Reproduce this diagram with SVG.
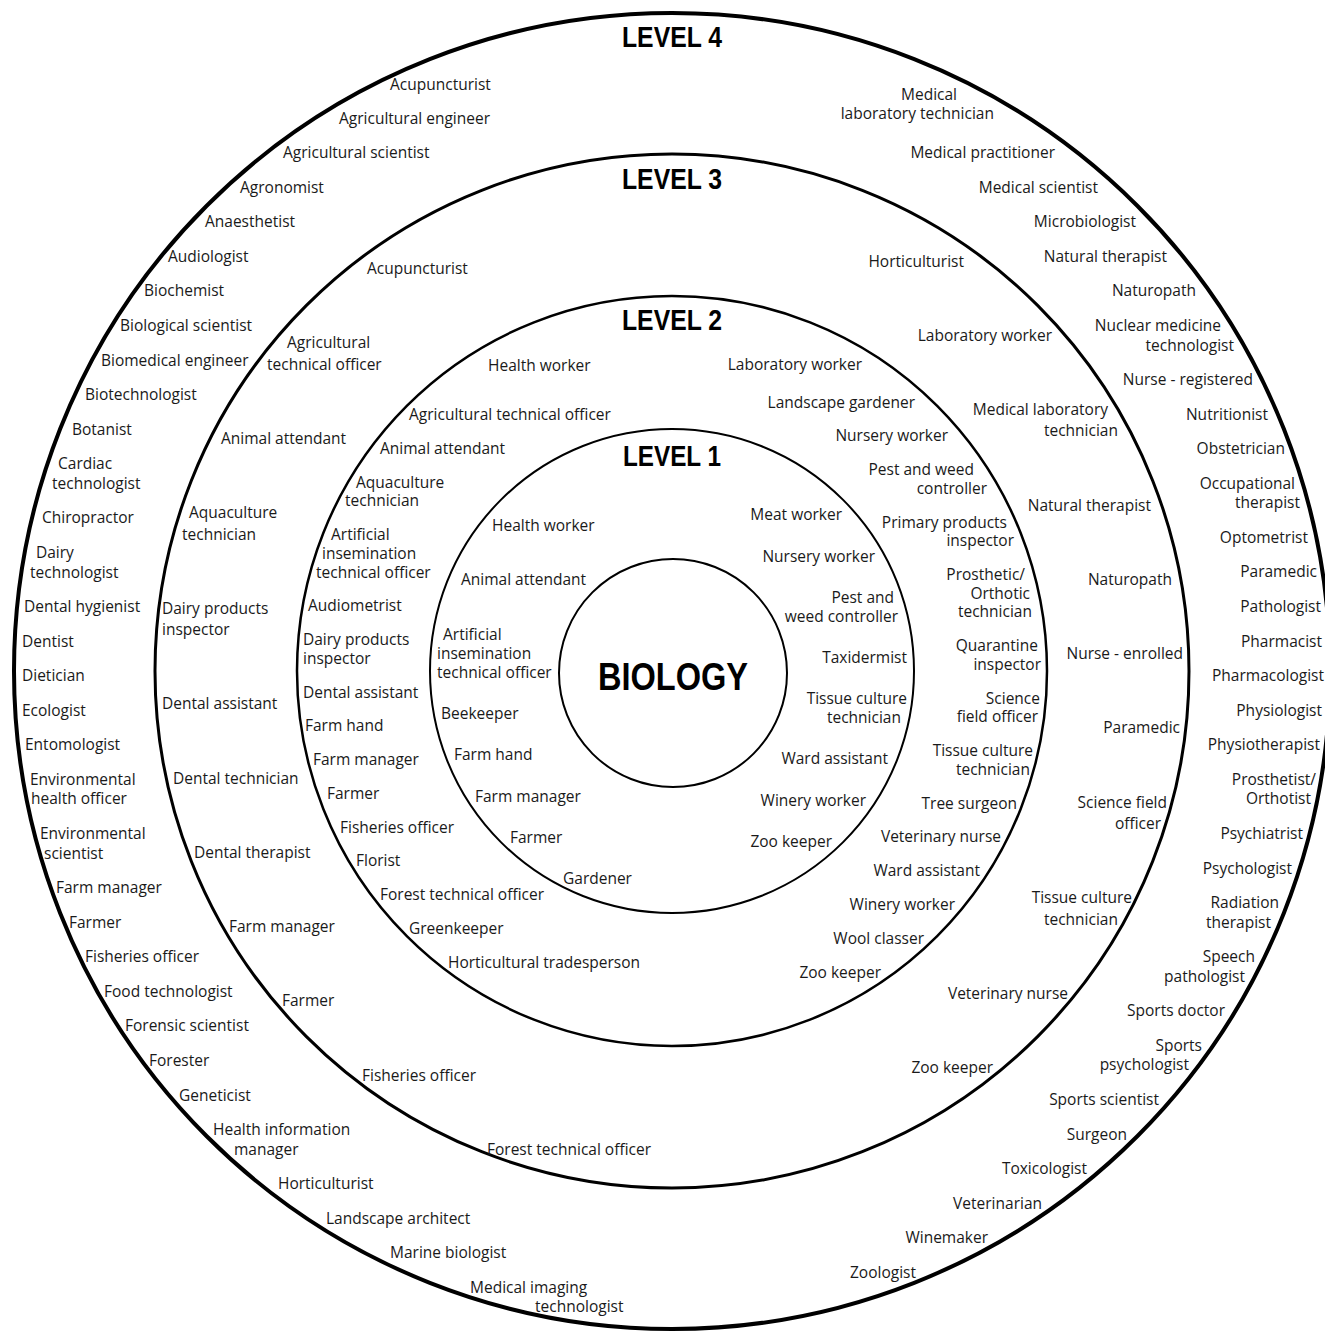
<svg xmlns="http://www.w3.org/2000/svg" width="1325" height="1332" viewBox="0 0 1325 1332">
<style>
.ring{fill:none;stroke:#000}
.t{font-family:"Open Sans","DejaVu Sans",sans-serif;font-size:15.5px;fill:#1a1a1a}
.l{text-anchor:start}
.r{text-anchor:end}
.h{font-family:"Liberation Sans",Arial,sans-serif;font-weight:bold;font-size:29px;fill:#000;text-anchor:middle}
.bio{font-family:"Liberation Sans",Arial,sans-serif;font-weight:bold;font-size:38px;fill:#000;text-anchor:middle}
</style>
<rect width="1325" height="1332" fill="#fff"/>
<g id="rings">
<circle class="ring" cx="672" cy="671" r="658" stroke-width="4"/>
<circle class="ring" cx="672" cy="671" r="517" stroke-width="3"/>
<circle class="ring" cx="672" cy="671" r="375" stroke-width="2.5"/>
<circle class="ring" cx="672" cy="671" r="242" stroke-width="2"/>
<circle class="ring" cx="673" cy="673" r="114" stroke-width="2"/>
</g>
<g id="headings">
<text class="h" x="672" y="47" textLength="100" lengthAdjust="spacingAndGlyphs">LEVEL 4</text>
<text class="h" x="672" y="189" textLength="100" lengthAdjust="spacingAndGlyphs">LEVEL 3</text>
<text class="h" x="672" y="330" textLength="100" lengthAdjust="spacingAndGlyphs">LEVEL 2</text>
<text class="h" x="672" y="466" textLength="98" lengthAdjust="spacingAndGlyphs">LEVEL 1</text>
<text class="bio" x="673" y="690" textLength="150" lengthAdjust="spacingAndGlyphs">BIOLOGY</text>
</g>
<g id="level4" class="t">
<text class="l" x="390" y="90">Acupuncturist</text>
<text class="l" x="339" y="124">Agricultural engineer</text>
<text class="l" x="283" y="158">Agricultural scientist</text>
<text class="l" x="240" y="193">Agronomist</text>
<text class="l" x="205" y="227">Anaesthetist</text>
<text class="l" x="168" y="262">Audiologist</text>
<text class="l" x="144" y="296">Biochemist</text>
<text class="l" x="120" y="331">Biological scientist</text>
<text class="l" x="101" y="366">Biomedical engineer</text>
<text class="l" x="85" y="400">Biotechnologist</text>
<text class="l" x="72" y="435">Botanist</text>
<text class="l"><tspan x="58" y="469">Cardiac</tspan><tspan x="52" y="489">technologist</tspan></text>
<text class="l" x="42" y="523">Chiropractor</text>
<text class="l"><tspan x="36" y="558">Dairy</tspan><tspan x="30" y="578">technologist</tspan></text>
<text class="l" x="24" y="612">Dental hygienist</text>
<text class="l" x="22" y="647">Dentist</text>
<text class="l" x="22" y="681">Dietician</text>
<text class="l" x="22" y="716">Ecologist</text>
<text class="l" x="25" y="750">Entomologist</text>
<text class="l"><tspan x="30" y="785">Environmental</tspan><tspan x="31" y="804">health officer</tspan></text>
<text class="l"><tspan x="40" y="839">Environmental</tspan><tspan x="44" y="859">scientist</tspan></text>
<text class="l" x="56" y="893">Farm manager</text>
<text class="l" x="69" y="928">Farmer</text>
<text class="l" x="85" y="962">Fisheries officer</text>
<text class="l" x="104" y="997">Food technologist</text>
<text class="l" x="125" y="1031">Forensic scientist</text>
<text class="l" x="149" y="1066">Forester</text>
<text class="l" x="179" y="1101">Geneticist</text>
<text class="l"><tspan x="213" y="1135">Health information</tspan><tspan x="234" y="1155">manager</tspan></text>
<text class="l" x="278" y="1189">Horticulturist</text>
<text class="l" x="326" y="1224">Landscape architect</text>
<text class="l" x="390" y="1258">Marine biologist</text>
<text class="l"><tspan x="470" y="1293">Medical imaging</tspan><tspan x="535" y="1312">technologist</tspan></text>
<text class="r"><tspan x="957" y="100">Medical</tspan><tspan x="994" y="119">laboratory technician</tspan></text>
<text class="r" x="1055" y="158">Medical practitioner</text>
<text class="r" x="1098" y="193">Medical scientist</text>
<text class="r" x="1136" y="227">Microbiologist</text>
<text class="r" x="1167" y="262">Natural therapist</text>
<text class="r" x="1196" y="296">Naturopath</text>
<text class="r"><tspan x="1221" y="331">Nuclear medicine</tspan><tspan x="1234" y="351">technologist</tspan></text>
<text class="r" x="1253" y="385">Nurse - registered</text>
<text class="r" x="1268" y="420">Nutritionist</text>
<text class="r" x="1285" y="454">Obstetrician</text>
<text class="r"><tspan x="1295" y="489">Occupational</tspan><tspan x="1300" y="508">therapist</tspan></text>
<text class="r" x="1308" y="543">Optometrist</text>
<text class="r" x="1317" y="577">Paramedic</text>
<text class="r" x="1321" y="612">Pathologist</text>
<text class="r" x="1322" y="647">Pharmacist</text>
<text class="r" x="1324" y="681">Pharmacologist</text>
<text class="r" x="1322" y="716">Physiologist</text>
<text class="r" x="1320" y="750">Physiotherapist</text>
<text class="r"><tspan x="1316" y="785">Prosthetist/</tspan><tspan x="1311" y="804">Orthotist</tspan></text>
<text class="r" x="1303" y="839">Psychiatrist</text>
<text class="r" x="1292" y="874">Psychologist</text>
<text class="r"><tspan x="1279" y="908">Radiation</tspan><tspan x="1271" y="928">therapist</tspan></text>
<text class="r"><tspan x="1255" y="962">Speech</tspan><tspan x="1245" y="982">pathologist</tspan></text>
<text class="r" x="1225" y="1016">Sports doctor</text>
<text class="r"><tspan x="1202" y="1051">Sports</tspan><tspan x="1189" y="1070">psychologist</tspan></text>
<text class="r" x="1159" y="1105">Sports scientist</text>
<text class="r" x="1127" y="1140">Surgeon</text>
<text class="r" x="1087" y="1174">Toxicologist</text>
<text class="r" x="1042" y="1209">Veterinarian</text>
<text class="r" x="988" y="1243">Winemaker</text>
<text class="r" x="916" y="1278">Zoologist</text>
</g>
<g id="level3" class="t">
<text class="l" x="367" y="274">Acupuncturist</text>
<text class="l"><tspan x="287" y="348">Agricultural</tspan><tspan x="267" y="370">technical officer</tspan></text>
<text class="l" x="221" y="444">Animal attendant</text>
<text class="l"><tspan x="189" y="518">Aquaculture</tspan><tspan x="182" y="540">technician</tspan></text>
<text class="l"><tspan x="162" y="614">Dairy products</tspan><tspan x="162" y="635">inspector</tspan></text>
<text class="l" x="162" y="709">Dental assistant</text>
<text class="l" x="173" y="784">Dental technician</text>
<text class="l" x="194" y="858">Dental therapist</text>
<text class="l" x="229" y="932">Farm manager</text>
<text class="l" x="282" y="1006">Farmer</text>
<text class="l" x="362" y="1081">Fisheries officer</text>
<text class="l" x="487" y="1155">Forest technical officer</text>
<text class="r" x="964" y="267">Horticulturist</text>
<text class="r" x="1052" y="341">Laboratory worker</text>
<text class="r"><tspan x="1108" y="415">Medical laboratory</tspan><tspan x="1118" y="436">technician</tspan></text>
<text class="r" x="1151" y="511">Natural therapist</text>
<text class="r" x="1172" y="585">Naturopath</text>
<text class="r" x="1183" y="659">Nurse - enrolled</text>
<text class="r" x="1180" y="733">Paramedic</text>
<text class="r"><tspan x="1167" y="808">Science field</tspan><tspan x="1161" y="829">officer</tspan></text>
<text class="r"><tspan x="1132" y="903">Tissue culture</tspan><tspan x="1118" y="925">technician</tspan></text>
<text class="r" x="1068" y="999">Veterinary nurse</text>
<text class="r" x="993" y="1073">Zoo keeper</text>
</g>
<g id="level2" class="t">
<text class="l" x="488" y="371">Health worker</text>
<text class="l" x="409" y="420">Agricultural technical officer</text>
<text class="l" x="380" y="454">Animal attendant</text>
<text class="l"><tspan x="356" y="488">Aquaculture</tspan><tspan x="345" y="506">technician</tspan></text>
<text class="l"><tspan x="331" y="540">Artificial</tspan><tspan x="322" y="559">insemination</tspan><tspan x="316" y="578">technical officer</tspan></text>
<text class="l" x="308" y="611">Audiometrist</text>
<text class="l"><tspan x="303" y="645">Dairy products</tspan><tspan x="303" y="664">inspector</tspan></text>
<text class="l" x="303" y="698">Dental assistant</text>
<text class="l" x="305" y="731">Farm hand</text>
<text class="l" x="313" y="765">Farm manager</text>
<text class="l" x="327" y="799">Farmer</text>
<text class="l" x="340" y="833">Fisheries officer</text>
<text class="l" x="356" y="866">Florist</text>
<text class="l" x="380" y="900">Forest technical officer</text>
<text class="l" x="409" y="934">Greenkeeper</text>
<text class="l" x="448" y="968">Horticultural tradesperson</text>
<text class="r" x="862" y="370">Laboratory worker</text>
<text class="r" x="915" y="408">Landscape gardener</text>
<text class="r" x="948" y="441">Nursery worker</text>
<text class="r"><tspan x="974" y="475">Pest and weed</tspan><tspan x="987" y="494">controller</tspan></text>
<text class="r"><tspan x="1007" y="528">Primary products</tspan><tspan x="1014" y="546">inspector</tspan></text>
<text class="r"><tspan x="1025" y="580">Prosthetic/</tspan><tspan x="1030" y="599">Orthotic</tspan><tspan x="1032" y="617">technician</tspan></text>
<text class="r"><tspan x="1038" y="651">Quarantine</tspan><tspan x="1041" y="670">inspector</tspan></text>
<text class="r"><tspan x="1040" y="704">Science</tspan><tspan x="1038" y="722">field officer</tspan></text>
<text class="r"><tspan x="1033" y="756">Tissue culture</tspan><tspan x="1030" y="775">technician</tspan></text>
<text class="r" x="1017" y="809">Tree surgeon</text>
<text class="r" x="1001" y="842">Veterinary nurse</text>
<text class="r" x="980" y="876">Ward assistant</text>
<text class="r" x="955" y="910">Winery worker</text>
<text class="r" x="924" y="944">Wool classer</text>
<text class="r" x="881" y="978">Zoo keeper</text>
</g>
<g id="level1" class="t">
<text class="l" x="492" y="531">Health worker</text>
<text class="l" x="461" y="585">Animal attendant</text>
<text class="l"><tspan x="443" y="640">Artificial</tspan><tspan x="437" y="659">insemination</tspan><tspan x="437" y="678">technical officer</tspan></text>
<text class="l" x="441" y="719">Beekeeper</text>
<text class="l" x="454" y="760">Farm hand</text>
<text class="l" x="475" y="802">Farm manager</text>
<text class="l" x="510" y="843">Farmer</text>
<text class="l" x="563" y="884">Gardener</text>
<text class="r" x="842" y="520">Meat worker</text>
<text class="r" x="875" y="562">Nursery worker</text>
<text class="r"><tspan x="894" y="603">Pest and</tspan><tspan x="898" y="622">weed controller</tspan></text>
<text class="r" x="907" y="663">Taxidermist</text>
<text class="r"><tspan x="907" y="704">Tissue culture</tspan><tspan x="901" y="723">technician</tspan></text>
<text class="r" x="888" y="764">Ward assistant</text>
<text class="r" x="866" y="806">Winery worker</text>
<text class="r" x="832" y="847">Zoo keeper</text>
</g>
</svg>
